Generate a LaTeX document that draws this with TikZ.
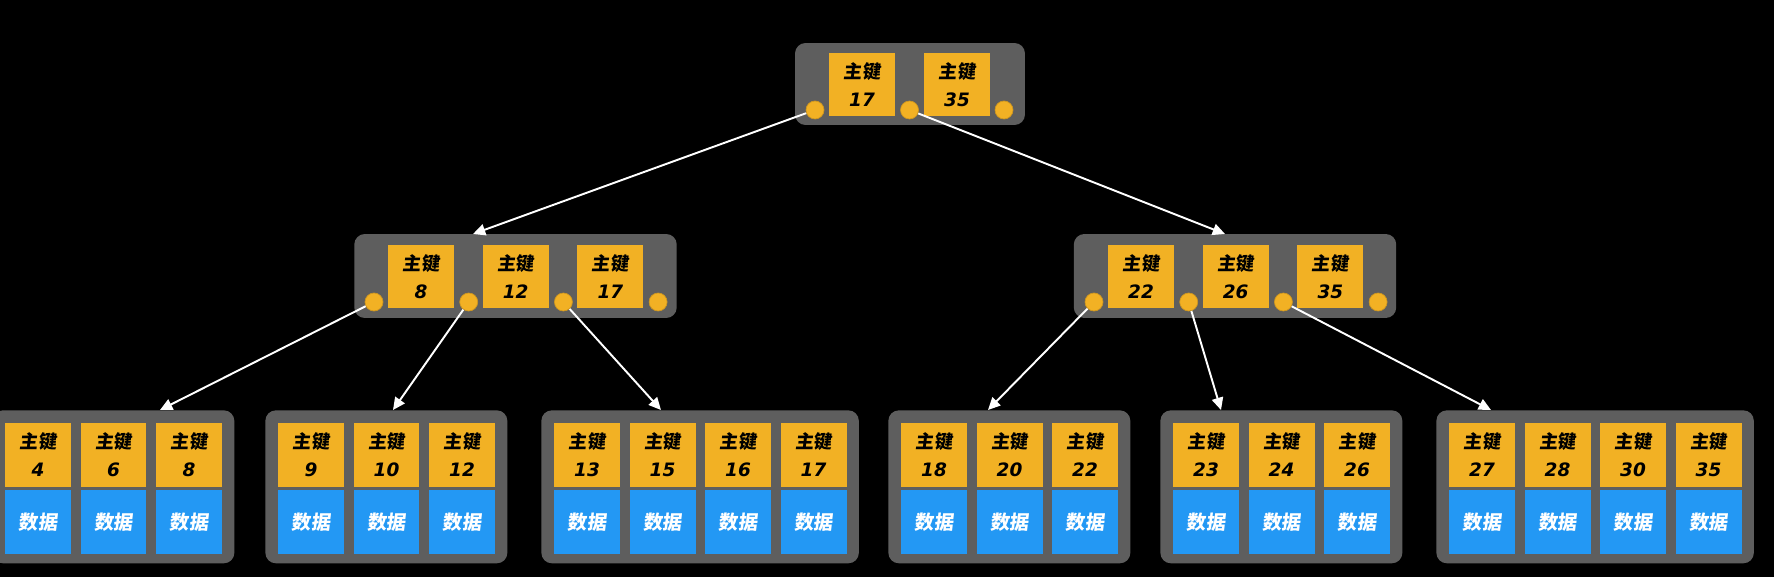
\documentclass[tikz,border=0pt]{standalone}
\usepackage{fontspec}
\newfontfamily\cjk{Noto Sans CJK SC}[FakeSlant=0.12]
\newfontfamily\numfont{DejaVu Sans}
\usetikzlibrary{arrows.meta}
\definecolor{keyorange}{HTML}{F2B124}
\definecolor{datablue}{HTML}{2398F4}
\definecolor{panelgray}{HTML}{5E5E5E}

\begin{document}
\begin{tikzpicture}[x=0.02cm,y=-0.02cm]
    \newcommand{\pitch}{75.5} % distance of the boxes in a leaf
    \newcommand{\keytext}[1]{{\cjk\bfseries 主键}\\[2pt]{\numfont\bfseries\itshape #1}}

    % set the styles of the boxes
    \tikzset{
        panel/.style={
            fill=panelgray,
            rounded corners=6pt,
            inner sep=0pt
            },
        keybox/.style={
            fill=keyorange,
            minimum width=1.32cm,
            minimum height=1.28cm,
            inner sep=0pt,
            align=center,
            font=\fontsize{10.5}{14}\selectfont
            },
        databox/.style={
            fill=datablue,
            text=white,
            minimum width=1.32cm,
            minimum height=1.28cm,
            inner sep=0pt,
            font=\fontsize{11}{12}\selectfont\cjk\bfseries
            },
        ptr/.style={
            circle,
            fill=keyorange,
            draw=keyorange!85!black,
            line width=0.4pt,
            minimum size=0.36cm,
            inner sep=0pt
            },
        link/.style={
            draw=white,
            line width=1.1pt,
            -{Triangle[length=7pt,width=6.5pt]}
            }
    }

    \useasboundingbox (0,0) rectangle (1774,577);
    \fill[black] (0,0) rectangle (1774,577);

    % root
    \node[panel, minimum width=4.6cm, minimum height=1.64cm] (root) at (910,84) {};
    \foreach \k [count=\i] in {17,35}
        \node[keybox] (root-k\i) at (862+95*\i-95,84.5) {\keytext{\k}};
    \foreach \i in {1,...,3}
        \node[ptr] (root-p\i) at (815+94.5*\i-94.5,110) {};

    % inner nodes
    \foreach \nd/\cx/\px/\keys in {ia/421/515.5/{8,12,17}, ib/1141/1235/{22,26,35}} {
        \node[panel, minimum width=6.45cm, minimum height=1.68cm] (\nd) at (\px,276) {};
        \foreach \k [count=\i] in \keys
            \node[keybox] (\nd-k\i) at (\cx+94.7*\i-94.7,276.5) {\keytext{\k}};
        \foreach \i in {1,...,4}
            \node[ptr] (\nd-p\i) at (\cx-47+94.7*\i-94.7,302) {};
    }

    % leaves
    \foreach \lv/\x/\n/\keys in {la/5/3/{4,6,8}, lb/278/3/{9,10,12}, lc/554/4/{13,15,16,17},
                                 ld/901/3/{18,20,22}, le/1173/3/{23,24,26}, lf/1449/4/{27,28,30,35}} {
        \node[panel, anchor=north west, minimum width={(\n*\pitch+15.5)*0.02cm}, minimum height=3.06cm]
            (\lv) at (\x-13,410) {};
        \foreach \k [count=\i] in \keys {
            \node[keybox, minimum height=1.3cm] (\lv-k\i) at (\x+33+\pitch*\i-\pitch,455) {\keytext{\k}};
            \node[databox, minimum height=1.3cm] (\lv-d\i) at (\x+33+\pitch*\i-\pitch,522) {数据};
        }
    }

    % ends of the links
    \coordinate (ia-in) at (473,234);
    \coordinate (ib-in) at (1225,234);
    \coordinate (la-in) at (160,410);
    \coordinate (lb-in) at (393,410);
    \coordinate (lc-in) at (661,410);
    \coordinate (ld-in) at (988,410);
    \coordinate (le-in) at (1221,410);
    \coordinate (lf-in) at (1491,410);

    % links
    \draw[link] (root-p1) -- (ia-in);
    \draw[link] (root-p2) -- (ib-in);
    \draw[link] (ia-p1) -- (la-in);
    \draw[link] (ia-p2) -- (lb-in);
    \draw[link] (ia-p3) -- (lc-in);
    \draw[link] (ib-p1) -- (ld-in);
    \draw[link] (ib-p2) -- (le-in);
    \draw[link] (ib-p3) -- (lf-in);

\end{tikzpicture}
\end{document}
